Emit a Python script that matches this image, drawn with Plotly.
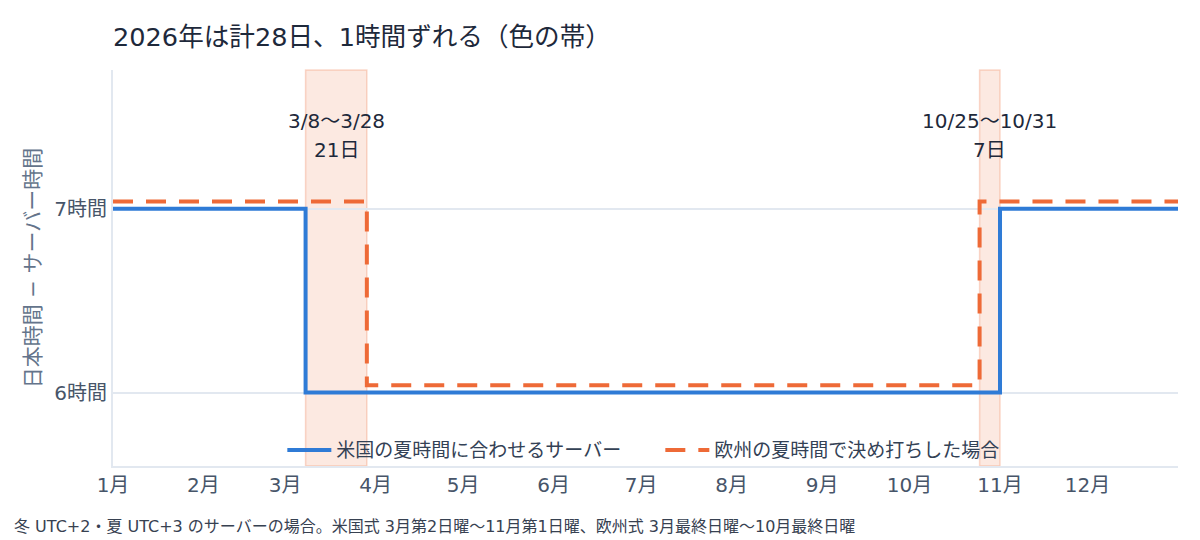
import plotly.graph_objects as go

# --- data ---
us_dates = ["2026-01-01", "2026-03-08", "2026-11-01", "2027-01-01"]
us_values = [7, 6, 7, 7]
eu_dates = ["2026-01-01", "2026-03-29", "2026-10-25", "2027-01-01"]
eu_values = [7, 6, 7, 7]
band_starts = ["2026-03-08", "2026-10-25"]
band_ends = ["2026-03-29", "2026-11-01"]
band_ranges = ["3/8～3/28", "10/25～10/31"]
band_days = ["21日", "7日"]
band_mids = ["2026-03-18 12:00", "2026-10-28 12:00"]
month_ticks = ["2026-%02d-01" % m for m in range(1, 13)]
month_labels = ["%d月" % m for m in range(1, 13)]
y_ticks = [6, 7]
y_labels = ["6時間", "7時間"]

FONT = "DejaVu Sans, Noto Sans CJK JP, sans-serif"
BLUE = "#2f7bd6"
ORANGE = "#ee6a37"
eu_offset = 0.04  # small visual offset so lines don't overlap

fig = go.Figure()
for s, e in zip(band_starts, band_ends):
    fig.add_shape(type="rect", xref="x", yref="paper", x0=s, x1=e, y0=0, y1=1,
                  fillcolor="rgba(238,106,55,0.15)",
                  line=dict(color="rgba(238,106,55,0.25)", width=1.5), layer="below")

fig.add_trace(go.Scatter(x=us_dates, y=us_values, mode="lines", line_shape="hv",
                         name="米国の夏時間に合わせるサーバー",
                         line=dict(color=BLUE, width=4)))
fig.add_trace(go.Scatter(x=eu_dates, y=[v + eu_offset for v in eu_values], mode="lines",
                         line_shape="hv", name="欧州の夏時間で決め打ちした場合",
                         line=dict(color=ORANGE, width=4, dash="20px,13px")))

for xm, rng, days in zip(band_mids, band_ranges, band_days):
    fig.add_annotation(x=xm, y=7.48, xref="x", yref="y", text=rng, showarrow=False,
                       font=dict(size=20, color="#1e293b", family=FONT), align="center")
    fig.add_annotation(x=xm, y=7.32, xref="x", yref="y", text=days, showarrow=False,
                       font=dict(size=20, color="#1e293b", family=FONT), align="center")

fig.add_annotation(text="冬 UTC+2・夏 UTC+3 のサーバーの場合。米国式 3月第2日曜～11月第1日曜、欧州式 3月最終日曜～10月最終日曜",
                   xref="paper", yref="paper", x=-0.0948, y=-0.154, xanchor="left", yanchor="middle",
                   showarrow=False, font=dict(size=16, color="#374151", family=FONT))

fig.update_layout(
    width=1200, height=540,
    margin=dict(l=113, r=22, t=70, b=74),
    paper_bgcolor="white", plot_bgcolor="white",
    font=dict(family=FONT, color="#475569"),
    title=dict(text="2026年は計28日、1時間ずれる（色の帯）", x=113 / 1200, xanchor="left",
               y=1 - 37 / 540, yanchor="middle",
               font=dict(size=25.6, color="#1e293b", family=FONT)),
    legend=dict(orientation="h", x=0.159, xanchor="left", y=0.04, yanchor="middle",
                font=dict(size=19, color="#334155"), bgcolor="rgba(0,0,0,0)",
                itemwidth=44, entrywidth=319),
    showlegend=True,
)
fig.update_xaxes(range=["2026-01-01", "2027-01-01"], tickvals=month_ticks, ticktext=month_labels,
                 showgrid=False, showline=True, linecolor="#e2e8f0", linewidth=2,
                 tickfont=dict(size=20, color="#475569"), ticks="", zeroline=False)
fig.update_yaxes(range=[5.6, 7.755], tickvals=y_ticks, ticktext=y_labels,
                 showgrid=True, gridcolor="#e2e8f0", gridwidth=1.5,
                 showline=True, linecolor="#e2e8f0", linewidth=2,
                 title=dict(text="日本時間 − サーバー時間", font=dict(size=21, color="#64748b"), standoff=8),
                 tickfont=dict(size=20, color="#475569"), ticks="", zeroline=False)

fig.write_html("out.html", config={"displayModeBar": False},
               post_script="document.body.style.margin='0';")
